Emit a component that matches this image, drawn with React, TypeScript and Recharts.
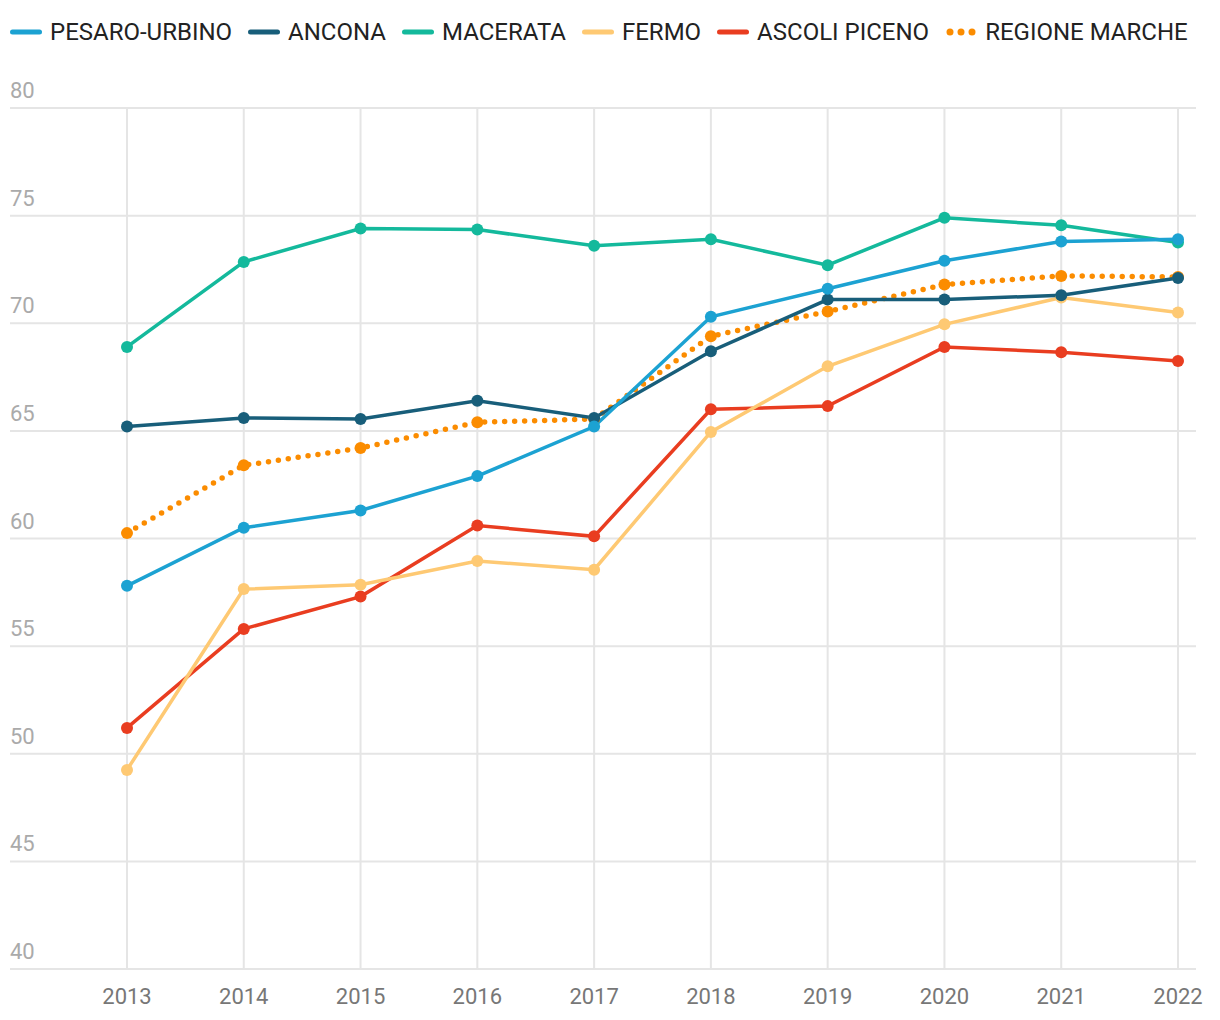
import React from "react";
import { LineChart, Line, XAxis, YAxis, CartesianGrid } from "recharts";

const years = ["2013", "2014", "2015", "2016", "2017", "2018", "2019", "2020", "2021", "2022"];
const pesaroUrbino = [57.8, 60.5, 61.3, 62.9, 65.2, 70.3, 71.6, 72.9, 73.8, 73.9];
const ancona = [65.2, 65.6, 65.55, 66.4, 65.6, 68.7, 71.1, 71.1, 71.3, 72.1];
const macerata = [68.9, 72.85, 74.4, 74.35, 73.6, 73.9, 72.7, 74.9, 74.55, 73.75];
const fermo = [49.25, 57.65, 57.85, 58.95, 58.55, 64.95, 68.0, 69.95, 71.2, 70.5];
const ascoliPiceno = [51.2, 55.8, 57.3, 60.6, 60.1, 66.0, 66.15, 68.9, 68.65, 68.25];
const regioneMarche = [60.25, 63.4, 64.2, 65.4, 65.55, 69.4, 70.55, 71.8, 72.2, 72.15];
const yTicks = [40, 45, 50, 55, 60, 65, 70, 75, 80];

const SERIES = [
  { key: "pesaro", name: "PESARO-URBINO", color: "#1ca2d2", values: pesaroUrbino },
  { key: "ancona", name: "ANCONA", color: "#185e7a", values: ancona },
  { key: "macerata", name: "MACERATA", color: "#14b99c", values: macerata },
  { key: "fermo", name: "FERMO", color: "#fec973", values: fermo },
  { key: "ascoli", name: "ASCOLI PICENO", color: "#e93d20", values: ascoliPiceno },
  { key: "marche", name: "REGIONE MARCHE", color: "#fb8c00", values: regioneMarche, dotted: true },
];

const data = years.map((year, i) => {
  const row: any = { year };
  SERIES.forEach((s) => (row[s.key] = s.values[i]));
  return row;
});

const FONT = "Roboto, 'Noto Sans', sans-serif";

// etichette asse Y sopra la griglia, allineate a sinistra
const YTick = ({ y, payload }: any) => (
  <text x={2} y={y - 10} textAnchor="start" fill="#aaaaaa" fontSize={22} fontFamily={FONT}>
    {payload.value}
  </text>
);

const XTick = ({ x, y, payload }: any) => (
  <text x={x} y={y + 27} textAnchor="middle" fill="#777777" fontSize={22} fontFamily={FONT}>
    {payload.value}
  </text>
);

const LegendRow = () => (
  <div
    style={{
      position: "absolute",
      left: 2,
      top: 10,
      height: 28,
      display: "flex",
      alignItems: "center",
      fontFamily: FONT,
      fontSize: 24,
      color: "#222",
      whiteSpace: "nowrap",
    }}
  >
    {SERIES.map((s) => (
      <div key={s.key} style={{ display: "flex", alignItems: "center", marginRight: 16 }}>
        <svg width={32} height={10} style={{ marginRight: 8 }}>
          {s.dotted ? (
            <g fill={s.color}>
              <circle cx={5} cy={5} r={3.5} />
              <circle cx={16} cy={5} r={3.5} />
              <circle cx={27} cy={5} r={3.5} />
            </g>
          ) : (
            <line x1={2.5} y1={5} x2={29.5} y2={5} stroke={s.color} strokeWidth={5} strokeLinecap="round" />
          )}
        </svg>
        <span>{s.name}</span>
      </div>
    ))}
  </div>
);

export default function App() {
  const order = [...SERIES].reverse();
  return (
    <div style={{ position: "relative", width: 1212, height: 1012, background: "#fff" }}>
      <LegendRow />
      <LineChart width={1212} height={1012} data={data} margin={{ top: 100, right: 24, bottom: 6, left: 1 }}>
        <CartesianGrid stroke="#e5e5e5" strokeWidth={2} syncWithTicks />
        <XAxis
          dataKey="year"
          axisLine={false}
          tickLine={false}
          height={45}
          padding={{ left: 117, right: 18 }}
          tick={<XTick />}
          interval={0}
        />
        <YAxis
          domain={[40, 80]}
          ticks={yTicks}
          width={1}
          axisLine={false}
          tickLine={false}
          tick={<YTick />}
          interval={0}
        />
        {order.map((s) => (
          <Line
            key={s.key}
            type="linear"
            dataKey={s.key}
            name={s.name}
            stroke={s.color}
            strokeWidth={s.dotted ? 5.5 : 3.5}
            strokeDasharray={s.dotted ? "0 10" : undefined}
            strokeLinecap="round"
            dot={{ r: 6, fill: s.color, stroke: s.color, strokeWidth: 0 }}
            activeDot={false}
            isAnimationActive={false}
          />
        ))}
      </LineChart>
    </div>
  );
}
